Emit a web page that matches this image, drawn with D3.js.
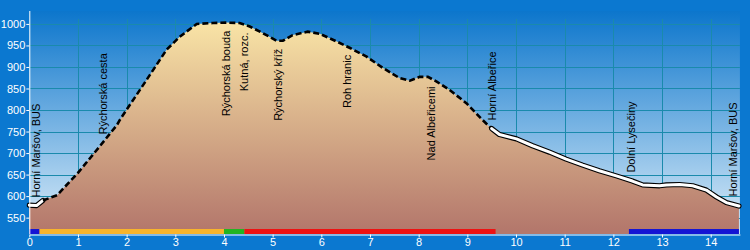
<!DOCTYPE html>
<html><head><meta charset="utf-8">
<script src="https://cdn.jsdelivr.net/npm/d3@7"></script>
<style>body{margin:0;background:#0b78d0;} svg{display:block} text{font-family:"Liberation Sans",Arial,sans-serif;}</style>
</head><body>
<svg id="c" width="750" height="250"></svg>
<script>
// ---- data ----
const profileKm   = [0, 0.15, 0.28, 0.57, 1.0, 1.45, 1.8, 1.86, 2.41, 2.82, 3.09, 3.44, 3.77, 4.06, 4.32, 4.53, 4.79, 5.08, 5.21, 5.41, 5.72, 5.97, 6.32, 6.59, 6.93, 7.26, 7.61, 7.82, 8.02, 8.19, 8.37, 8.63, 8.98, 9.31, 9.46, 9.52, 9.66, 10.01, 10.34, 10.69, 11.03, 11.37, 11.71, 12.06, 12.39, 12.6, 12.95, 13.09, 13.36, 13.63, 13.91, 14.12, 14.32, 14.58];
const profileElev = [579, 578, 590, 602, 654, 716, 765, 777, 870, 940, 970, 1000, 1002, 1003, 1002, 994, 979, 961, 961, 974, 982, 977, 959, 944, 924, 898, 874, 868, 877, 877, 866, 847, 816, 777, 761, 755, 743, 733, 717, 702, 686, 672, 659, 647, 635, 626, 624, 626, 627, 624, 614, 598, 585, 577];

const waypointNames = ["Horní Maršov, BUS", "Rýchorská cesta", "Rýchorská bouda", "Kutná, rozc.", "Rýchorský kříž", "Roh hranic", "Nad Albeřicemi", "Horní Albeřice", "Dolní Lysečiny", "Horní Maršov, BUS"];
const waypointKm    = [0.14, 1.51, 4.04, 4.41, 5.11, 6.54, 8.25, 9.5, 12.36, 14.46];

const lineSegFrom  = [0, 0.28, 9.5];
const lineSegTo    = [0.28, 9.5, 14.58];
const lineSegStyle = ["solid", "dashed", "solid"];

const barFrom   = [0, 0.21, 4.0, 4.42, 12.32];
const barTo     = [0.21, 4.0, 4.42, 9.58, 14.58];
const barColors = ["#1414d4", "#f8b42c", "#22b422", "#ee1212", "#1414d4"];

const xTickValues = [0, 1, 2, 3, 4, 5, 6, 7, 8, 9, 10, 11, 12, 13, 14];
const yTickValues = [550, 600, 650, 700, 750, 800, 850, 900, 950, 1000];

// ---- chart ----
const svg = d3.select("#c");
const L = 29.3, R = 739.9, T = 11, B = 234;
const x = d3.scaleLinear().domain([0, 14.6]).range([L, R]);
const y = d3.scaleLinear().domain([512, 1030]).range([B, T]);

const pts = profileKm.map((k, i) => ({k, e: profileElev[i]}));
function elevAt(k) {
  for (let i = 1; i < pts.length; i++) {
    if (k <= pts[i].k) {
      const a = pts[i-1], b = pts[i];
      return a.e + (b.e - a.e) * (k - a.k) / (b.k - a.k);
    }
  }
  return pts[pts.length-1].e;
}

svg.append("rect").attr("width", 750).attr("height", 250).attr("fill", "#0b78d0");

const defs = svg.append("defs");
const sky = defs.append("linearGradient").attr("id", "sky")
  .attr("gradientUnits", "userSpaceOnUse").attr("x1", 0).attr("x2", 0).attr("y1", T).attr("y2", B);
sky.append("stop").attr("offset", 0).attr("stop-color", "#0c76cc");
sky.append("stop").attr("offset", 1).attr("stop-color", "#dcedf9");
const ground = defs.append("linearGradient").attr("id", "ground")
  .attr("gradientUnits", "userSpaceOnUse").attr("x1", 0).attr("x2", 0).attr("y1", 22).attr("y2", 229);
ground.append("stop").attr("offset", 0).attr("stop-color", "#f9e4a6");
ground.append("stop").attr("offset", 1).attr("stop-color", "#b4786c");

svg.append("rect").attr("x", L).attr("y", T).attr("width", R - L).attr("height", B - T).attr("fill", "url(#sky)");

// grid
const grid = svg.append("g").attr("stroke", "#1a8aac").attr("stroke-width", 1);
grid.selectAll("line.v").data(xTickValues.filter(d => d > 0)).join("line")
  .attr("x1", d => Math.round(x(d)) + 0.5).attr("x2", d => Math.round(x(d)) + 0.5)
  .attr("y1", T + 8).attr("y2", B);
grid.selectAll("line.h").data(yTickValues).join("line")
  .attr("y1", d => Math.round(y(d)) + 0.5).attr("y2", d => Math.round(y(d)) + 0.5)
  .attr("x1", L).attr("x2", R);

// terrain
const area = d3.area().x(d => x(d.k)).y0(B).y1(d => y(d.e));
svg.append("path").datum(pts).attr("d", area).attr("fill", "url(#ground)");

// profile line segments
const line = d3.line().x(d => x(d.k)).y(d => y(d.e));
lineSegFrom.forEach((f, i) => {
  const t = lineSegTo[i];
  const seg = [{k: f, e: elevAt(f)}].concat(pts.filter(p => p.k > f && p.k < t), [{k: t, e: elevAt(t)}]);
  if (lineSegStyle[i] === "dashed") {
    svg.append("path").datum(seg).attr("d", line).attr("fill", "none")
      .attr("stroke", "#000").attr("stroke-width", 2.6).attr("stroke-dasharray", "6,3");
  } else {
    svg.append("path").datum(seg).attr("d", line).attr("fill", "none")
      .attr("stroke", "#000").attr("stroke-width", 5.2).attr("stroke-linejoin", "round").attr("stroke-linecap", "round");
    svg.append("path").datum(seg).attr("d", line).attr("fill", "none")
      .attr("stroke", "#fff").attr("stroke-width", 3).attr("stroke-linejoin", "round").attr("stroke-linecap", "round");
  }
});

// colored bar
svg.selectAll("rect.bar").data(barFrom).join("rect")
  .attr("x", (d) => x(d)).attr("width", (d, i) => x(barTo[i]) - x(d))
  .attr("y", 229).attr("height", 5).attr("fill", (d, i) => barColors[i]);

// waypoint labels
const lab = svg.append("g").attr("font-size", 11).attr("fill", "#000");
waypointNames.forEach((name, i) => {
  const k = waypointKm[i];
  const px = x(k), py = y(elevAt(k));
  const t = lab.append("text").attr("transform", `translate(${px},${py}) rotate(-90)`)
    .attr("dy", "0.35em").text(name);
  const len = t.node().getComputedTextLength();
  if (py - 8 - len >= T) t.attr("x", 8).attr("text-anchor", "start");
  else t.attr("x", -8).attr("text-anchor", "end");
});

// axes
const ya = svg.append("g").attr("transform", `translate(${L},0)`)
  .call(d3.axisLeft(y).tickValues(yTickValues).tickFormat(d3.format("d")).tickSize(3).tickSizeOuter(0).tickPadding(1));
ya.select(".domain").attr("stroke", "#fff").attr("d", `M0.5,${T}V${B}`);
ya.selectAll(".tick line").attr("stroke", "#fff");
ya.selectAll("text").attr("fill", "#fff").attr("font-size", 11).attr("font-family", '"Liberation Sans",Arial,sans-serif');

const xa = svg.append("g").attr("transform", `translate(0,${B + 0.5})`)
  .call(d3.axisBottom(x).tickValues(xTickValues).tickFormat(d3.format("d")).tickSize(3).tickSizeOuter(0).tickPadding(1));
xa.select(".domain").attr("stroke", "#fff");
xa.selectAll(".tick line").attr("stroke", "#fff");
xa.selectAll("text").attr("fill", "#fff").attr("font-size", 11).attr("font-family", '"Liberation Sans",Arial,sans-serif');
</script>
</body></html>
